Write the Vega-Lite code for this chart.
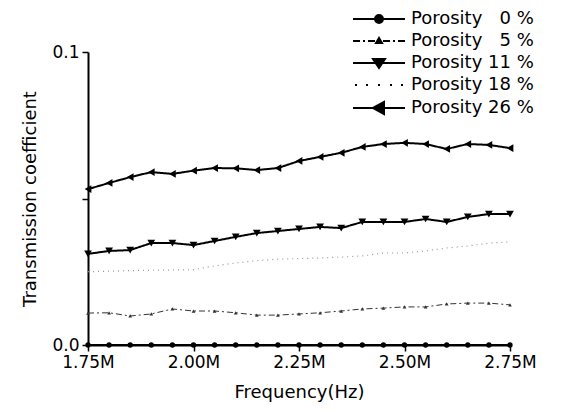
{
  "$schema": "https://vega.github.io/schema/vega-lite/v6.json",
  "width": 422,
  "height": 293,
  "autosize": {"type": "none"},
  "padding": {"left": 88, "top": 52, "right": 57, "bottom": 67},
  "background": "white",
  "config": {
    "view": {"stroke": null},
    "font": "DejaVu Sans",
    "axis": {
      "grid": false,
      "domainColor": "black",
      "domainWidth": 2,
      "tickColor": "black",
      "tickWidth": 1.5,
      "tickSize": 6,
      "labelColor": "black",
      "labelFont": "DejaVu Sans",
      "labelFontSize": 17,
      "labelFlush": false,
      "labelOverlap": false,
      "titleColor": "black",
      "titleFont": "DejaVu Sans",
      "titleFontSize": 18,
      "titleFontWeight": "normal"
    }
  },
  "data": {"values": [
    {"freq": 1.75, "series": "Porosity \u20070 %", "tc": 0},
    {"freq": 1.80, "series": "Porosity \u20070 %", "tc": 0},
    {"freq": 1.85, "series": "Porosity \u20070 %", "tc": 0},
    {"freq": 1.90, "series": "Porosity \u20070 %", "tc": 0},
    {"freq": 1.95, "series": "Porosity \u20070 %", "tc": 0},
    {"freq": 2.00, "series": "Porosity \u20070 %", "tc": 0},
    {"freq": 2.05, "series": "Porosity \u20070 %", "tc": 0},
    {"freq": 2.10, "series": "Porosity \u20070 %", "tc": 0},
    {"freq": 2.15, "series": "Porosity \u20070 %", "tc": 0},
    {"freq": 2.20, "series": "Porosity \u20070 %", "tc": 0},
    {"freq": 2.25, "series": "Porosity \u20070 %", "tc": 0},
    {"freq": 2.30, "series": "Porosity \u20070 %", "tc": 0},
    {"freq": 2.35, "series": "Porosity \u20070 %", "tc": 0},
    {"freq": 2.40, "series": "Porosity \u20070 %", "tc": 0},
    {"freq": 2.45, "series": "Porosity \u20070 %", "tc": 0},
    {"freq": 2.50, "series": "Porosity \u20070 %", "tc": 0},
    {"freq": 2.55, "series": "Porosity \u20070 %", "tc": 0},
    {"freq": 2.60, "series": "Porosity \u20070 %", "tc": 0},
    {"freq": 2.65, "series": "Porosity \u20070 %", "tc": 0},
    {"freq": 2.70, "series": "Porosity \u20070 %", "tc": 0},
    {"freq": 2.75, "series": "Porosity \u20070 %", "tc": 0},
    {"freq": 1.75, "series": "Porosity \u20075 %", "tc": 0.0109},
    {"freq": 1.80, "series": "Porosity \u20075 %", "tc": 0.0110},
    {"freq": 1.85, "series": "Porosity \u20075 %", "tc": 0.0099},
    {"freq": 1.90, "series": "Porosity \u20075 %", "tc": 0.0106},
    {"freq": 1.95, "series": "Porosity \u20075 %", "tc": 0.0123},
    {"freq": 2.00, "series": "Porosity \u20075 %", "tc": 0.0116},
    {"freq": 2.05, "series": "Porosity \u20075 %", "tc": 0.0116},
    {"freq": 2.10, "series": "Porosity \u20075 %", "tc": 0.0110},
    {"freq": 2.15, "series": "Porosity \u20075 %", "tc": 0.0102},
    {"freq": 2.20, "series": "Porosity \u20075 %", "tc": 0.0102},
    {"freq": 2.25, "series": "Porosity \u20075 %", "tc": 0.0106},
    {"freq": 2.30, "series": "Porosity \u20075 %", "tc": 0.0110},
    {"freq": 2.35, "series": "Porosity \u20075 %", "tc": 0.0116},
    {"freq": 2.40, "series": "Porosity \u20075 %", "tc": 0.0123},
    {"freq": 2.45, "series": "Porosity \u20075 %", "tc": 0.0126},
    {"freq": 2.50, "series": "Porosity \u20075 %", "tc": 0.0130},
    {"freq": 2.55, "series": "Porosity \u20075 %", "tc": 0.0130},
    {"freq": 2.60, "series": "Porosity \u20075 %", "tc": 0.0140},
    {"freq": 2.65, "series": "Porosity \u20075 %", "tc": 0.0143},
    {"freq": 2.70, "series": "Porosity \u20075 %", "tc": 0.0143},
    {"freq": 2.75, "series": "Porosity \u20075 %", "tc": 0.0137},
    {"freq": 1.75, "series": "Porosity 11 %", "tc": 0.0311},
    {"freq": 1.80, "series": "Porosity 11 %", "tc": 0.0321},
    {"freq": 1.85, "series": "Porosity 11 %", "tc": 0.0324},
    {"freq": 1.90, "series": "Porosity 11 %", "tc": 0.0348},
    {"freq": 1.95, "series": "Porosity 11 %", "tc": 0.0348},
    {"freq": 2.00, "series": "Porosity 11 %", "tc": 0.0341},
    {"freq": 2.05, "series": "Porosity 11 %", "tc": 0.0355},
    {"freq": 2.10, "series": "Porosity 11 %", "tc": 0.0369},
    {"freq": 2.15, "series": "Porosity 11 %", "tc": 0.0382},
    {"freq": 2.20, "series": "Porosity 11 %", "tc": 0.0389},
    {"freq": 2.25, "series": "Porosity 11 %", "tc": 0.0396},
    {"freq": 2.30, "series": "Porosity 11 %", "tc": 0.0403},
    {"freq": 2.35, "series": "Porosity 11 %", "tc": 0.0399},
    {"freq": 2.40, "series": "Porosity 11 %", "tc": 0.0420},
    {"freq": 2.45, "series": "Porosity 11 %", "tc": 0.0420},
    {"freq": 2.50, "series": "Porosity 11 %", "tc": 0.0420},
    {"freq": 2.55, "series": "Porosity 11 %", "tc": 0.0430},
    {"freq": 2.60, "series": "Porosity 11 %", "tc": 0.0420},
    {"freq": 2.65, "series": "Porosity 11 %", "tc": 0.0437},
    {"freq": 2.70, "series": "Porosity 11 %", "tc": 0.0447},
    {"freq": 2.75, "series": "Porosity 11 %", "tc": 0.0447},
    {"freq": 1.75, "series": "Porosity 18 %", "tc": 0.0250},
    {"freq": 1.80, "series": "Porosity 18 %", "tc": 0.0252},
    {"freq": 1.85, "series": "Porosity 18 %", "tc": 0.0254},
    {"freq": 1.90, "series": "Porosity 18 %", "tc": 0.0255},
    {"freq": 1.95, "series": "Porosity 18 %", "tc": 0.0256},
    {"freq": 2.00, "series": "Porosity 18 %", "tc": 0.0257},
    {"freq": 2.05, "series": "Porosity 18 %", "tc": 0.0270},
    {"freq": 2.10, "series": "Porosity 18 %", "tc": 0.0280},
    {"freq": 2.15, "series": "Porosity 18 %", "tc": 0.0288},
    {"freq": 2.20, "series": "Porosity 18 %", "tc": 0.0293},
    {"freq": 2.25, "series": "Porosity 18 %", "tc": 0.0295},
    {"freq": 2.30, "series": "Porosity 18 %", "tc": 0.0297},
    {"freq": 2.35, "series": "Porosity 18 %", "tc": 0.0300},
    {"freq": 2.40, "series": "Porosity 18 %", "tc": 0.0304},
    {"freq": 2.45, "series": "Porosity 18 %", "tc": 0.0314},
    {"freq": 2.50, "series": "Porosity 18 %", "tc": 0.0314},
    {"freq": 2.55, "series": "Porosity 18 %", "tc": 0.0321},
    {"freq": 2.60, "series": "Porosity 18 %", "tc": 0.0331},
    {"freq": 2.65, "series": "Porosity 18 %", "tc": 0.0338},
    {"freq": 2.70, "series": "Porosity 18 %", "tc": 0.0348},
    {"freq": 2.75, "series": "Porosity 18 %", "tc": 0.0352},
    {"freq": 1.75, "series": "Porosity 26 %", "tc": 0.0532},
    {"freq": 1.80, "series": "Porosity 26 %", "tc": 0.0553},
    {"freq": 1.85, "series": "Porosity 26 %", "tc": 0.0573},
    {"freq": 1.90, "series": "Porosity 26 %", "tc": 0.0590},
    {"freq": 1.95, "series": "Porosity 26 %", "tc": 0.0584},
    {"freq": 2.00, "series": "Porosity 26 %", "tc": 0.0595},
    {"freq": 2.05, "series": "Porosity 26 %", "tc": 0.0604},
    {"freq": 2.10, "series": "Porosity 26 %", "tc": 0.0603},
    {"freq": 2.15, "series": "Porosity 26 %", "tc": 0.0597},
    {"freq": 2.20, "series": "Porosity 26 %", "tc": 0.0604},
    {"freq": 2.25, "series": "Porosity 26 %", "tc": 0.0628},
    {"freq": 2.30, "series": "Porosity 26 %", "tc": 0.0642},
    {"freq": 2.35, "series": "Porosity 26 %", "tc": 0.0656},
    {"freq": 2.40, "series": "Porosity 26 %", "tc": 0.0676},
    {"freq": 2.45, "series": "Porosity 26 %", "tc": 0.0686},
    {"freq": 2.50, "series": "Porosity 26 %", "tc": 0.0690},
    {"freq": 2.55, "series": "Porosity 26 %", "tc": 0.0686},
    {"freq": 2.60, "series": "Porosity 26 %", "tc": 0.0669},
    {"freq": 2.65, "series": "Porosity 26 %", "tc": 0.0686},
    {"freq": 2.70, "series": "Porosity 26 %", "tc": 0.0683},
    {"freq": 2.75, "series": "Porosity 26 %", "tc": 0.0672}
  ]},
  "encoding": {
    "x": {
      "field": "freq", "type": "quantitative",
      "scale": {"domain": [1.75, 2.75], "nice": false, "zero": false},
      "axis": {
        "title": "Frequency(Hz)",
        "values": [1.75, 2.0, 2.25, 2.5, 2.75],
        "labelExpr": "format(datum.value, '.2f') + 'M'",
        "labelPadding": 3,
        "titlePadding": 13
      }
    },
    "y": {
      "field": "tc", "type": "quantitative",
      "scale": {"domain": [0, 0.1], "nice": false},
      "axis": {
        "title": "Transmission coefficient",
        "values": [0, 0.05, 0.1],
        "labelExpr": "datum.value == 0.05 ? '' : format(datum.value, '.1f')",
        "labelPadding": 3,
        "titlePadding": 12
      }
    }
  },
  "layer": [
    {
      "mark": {"type": "line", "interpolate": "linear"},
      "encoding": {
        "color": {
          "field": "series", "type": "nominal", "legend": null,
          "scale": {
            "domain": ["Porosity \u20070 %", "Porosity \u20075 %", "Porosity 11 %", "Porosity 18 %", "Porosity 26 %"],
            "range": ["#000000", "#333333", "#000000", "#999999", "#000000"]
          }
        },
        "strokeDash": {
          "field": "series", "type": "nominal", "legend": null,
          "scale": {
            "domain": ["Porosity \u20070 %", "Porosity \u20075 %", "Porosity 11 %", "Porosity 18 %", "Porosity 26 %"],
            "range": [[1, 0], [6, 3, 2, 3], [1, 0], [1, 4], [1, 0]]
          }
        },
        "strokeWidth": {
          "field": "series", "type": "nominal", "legend": null,
          "scale": {
            "type": "ordinal",
            "domain": ["Porosity \u20070 %", "Porosity \u20075 %", "Porosity 11 %", "Porosity 18 %", "Porosity 26 %"],
            "range": [2, 1, 2, 1.2, 2]
          }
        }
      }
    },
    {
      "mark": {"type": "point", "filled": true, "opacity": 1},
      "encoding": {
        "color": {
          "field": "series", "type": "nominal", "legend": null,
          "scale": {
            "domain": ["Porosity \u20070 %", "Porosity \u20075 %", "Porosity 11 %", "Porosity 18 %", "Porosity 26 %"],
            "range": ["#000000", "#333333", "#000000", "#999999", "#000000"]
          }
        },
        "shape": {
          "field": "series", "type": "nominal", "legend": null,
          "scale": {
            "domain": ["Porosity \u20070 %", "Porosity \u20075 %", "Porosity 11 %", "Porosity 18 %", "Porosity 26 %"],
            "range": ["circle", "triangle-up", "triangle-down", "circle", "triangle-left"]
          }
        },
        "size": {
          "field": "series", "type": "nominal", "legend": null,
          "scale": {
            "type": "ordinal",
            "domain": ["Porosity \u20070 %", "Porosity \u20075 %", "Porosity 11 %", "Porosity 18 %", "Porosity 26 %"],
            "range": [28, 14, 60, 0, 60]
          }
        }
      }
    },
    {
      "mark": {"type": "point", "filled": true, "fill": "black", "stroke": "black", "opacity": 0, "size": 4, "strokeWidth": 2},
      "encoding": {
        "shape": {
          "field": "series", "type": "nominal",
          "scale": {
            "domain": ["Porosity \u20070 %", "Porosity \u20075 %", "Porosity 11 %", "Porosity 18 %", "Porosity 26 %"],
            "range": [
              "M-26,0H26M-4,0A4,4,0,1,1,4,0A4,4,0,1,1,-4,0Z",
              "M-26,0H-19M-16,0H-14M-11,0H-4M4,0H11M14,0H16M19,0H26M-3,2L0,-3L3,2Z",
              "M-26,0H26M-6,-4H6L0,5Z",
              "M-24,0H-22M-13,0H-11M-1,0H1M11,0H13M22,0H24",
              "M-26,0H26M-6,0L5,-6V6Z"
            ]
          },
          "legend": {
            "title": null,
            "orient": "none",
            "legendX": 262,
            "legendY": -42,
            "padding": 0,
            "symbolSize": 4,
            "symbolOffset": 20,
            "labelOffset": 23,
            "labelFont": "DejaVu Sans",
            "labelFontSize": 18,
            "labelColor": "black",
            "rowPadding": 4,
            "labelLimit": 300,
            "symbolStrokeWidth": 2,
            "encode": {
              "symbols": {
                "update": {
                  "stroke": {"signal": "datum.value == 'Porosity 18 %' ? '#999999' : (datum.value == 'Porosity \u20075 %' ? '#333333' : '#000000')"},
                  "fill": {"signal": "datum.value == 'Porosity 18 %' ? '#999999' : (datum.value == 'Porosity \u20075 %' ? '#333333' : '#000000')"},
                  "strokeWidth": {"signal": "datum.value == 'Porosity 18 %' || datum.value == 'Porosity \u20075 %' ? 1.2 : 2"}
                }
              }
            }
          }
        }
      }
    }
  ],
  "resolve": {
    "scale": {
      "color": "independent",
      "shape": "independent",
      "size": "independent",
      "strokeDash": "independent",
      "strokeWidth": "independent"
    }
  }
}
